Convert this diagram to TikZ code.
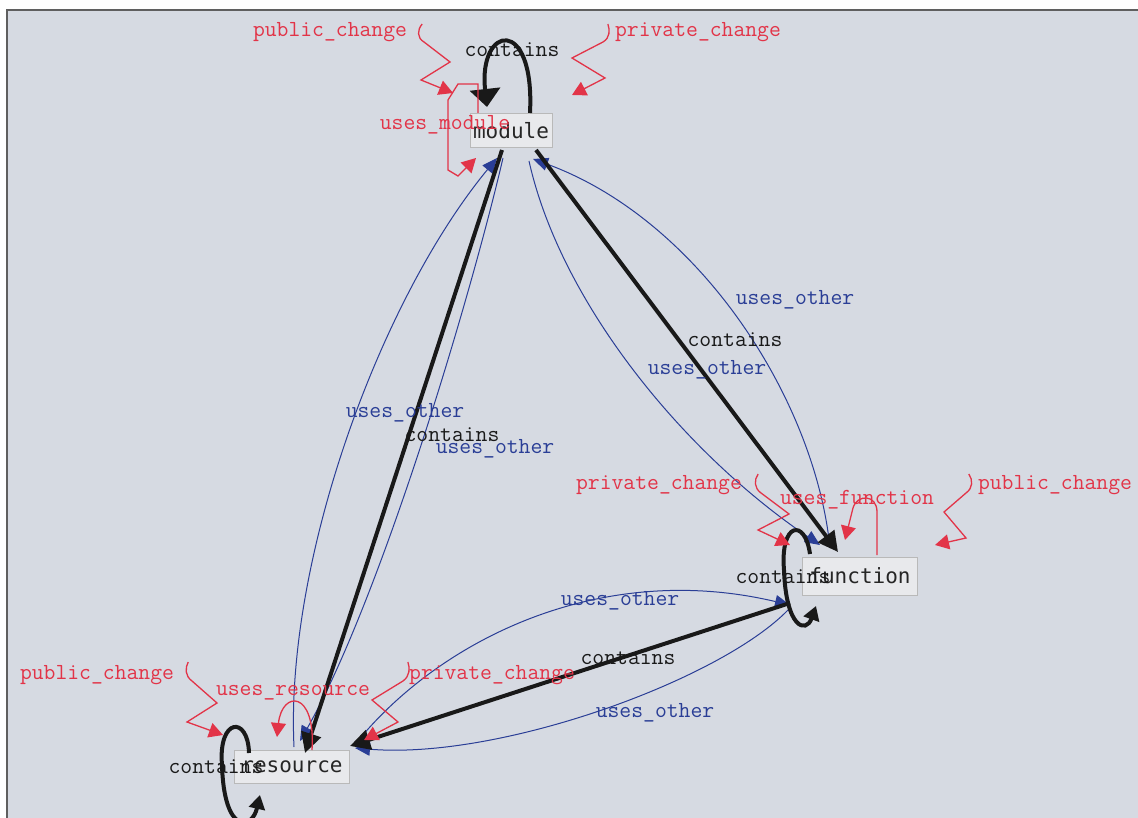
\documentclass[tikz,border=0pt]{standalone}
\usepackage{fontspec}
\newfontfamily\nodefont{DejaVu Sans Mono}
\usetikzlibrary{arrows.meta,calc}
\definecolor{bgc}{RGB}{214,218,226}
\definecolor{boxc}{RGB}{232,233,236}
\definecolor{redc}{RGB}{226,52,72}
\definecolor{bluec}{RGB}{42,62,150}
\definecolor{blkc}{RGB}{25,25,25}
\definecolor{framec}{RGB}{95,95,95}
\tikzset{
  box/.style={draw=gray!55, fill=boxc, line width=1pt, inner sep=0pt,
    font=\nodefont\fontsize{21}{21}\selectfont, text=black!85},
  lbl/.style={font=\ttfamily\fontsize{23}{23}\selectfont, inner sep=0pt},
  redlbl/.style={lbl, text=redc},
  bluelbl/.style={lbl, text=bluec},
  blklbl/.style={lbl, text=blkc},
  containsedge/.style={draw=blkc, line width=4pt, -{Triangle[length=20pt,width=20pt]}},
  useedge/.style={draw=bluec, line width=1pt, -{Triangle[length=15pt,width=13pt]}},
  chg/.style={draw=redc, line width=1.3pt, -{Triangle[length=14pt,width=15pt]}}
}
\begin{document}
\begin{tikzpicture}[x=1pt,y=-1pt]
\useasboundingbox (0,0) rectangle (1138,818);
\clip (0,0) rectangle (1138,818);
\fill[white] (0,0) rectangle (1138,818);
\fill[bgc] (7,10) rectangle (1138,818);
\draw[framec, line width=2pt] (7,818) -- (7,10) -- (1138,10);

% nodes
\node[box, minimum width=82pt, minimum height=34pt] (module) at (511,131) {module};
\node[box, minimum width=115pt, minimum height=38pt] (function) at (860,576) {function};
\node[box, minimum width=115pt, minimum height=33pt] (resource) at (292,767) {resource};

% uses_other (blue)
\draw[useedge] ($(resource.center)+(2,-20)$) .. controls (285,560) and (380,300) .. ($(module.center)+(-14,27)$);
\draw[useedge] ($(module.center)+(-8,27)$) .. controls (470,300) and (380,600) .. ($(resource.center)+(8,-26)$);
\draw[useedge] ($(function.center)+(-30,-28)$) .. controls (815,400) and (700,220) .. ($(module.center)+(22,28)$);
\draw[useedge] ($(module.center)+(18,30)$) .. controls (560,300) and (680,450) .. ($(function.center)+(-40,-31)$);
\draw[useedge] ($(resource.center)+(65,-25)$) .. controls (440,640) and (600,560) .. ($(function.center)+(-70,29)$);
\draw[useedge] ($(function.center)+(-72,34)$) .. controls (720,680) and (500,760) .. ($(resource.center)+(63,-19)$);

% contains (black)
\draw[containsedge] ($(module.center)+(-9,19)$) -- ($(resource.center)+(13,-14)$);
\draw[containsedge] ($(module.center)+(25,19)$) -- ($(function.center)+(-22,-24)$);
\draw[containsedge] ($(function.center)+(-70,27)$) -- ($(resource.center)+(58,-21)$);
\draw[draw=blkc, line width=4pt, -{Triangle[length=18pt,width=30pt]}]
  ($(module.center)+(19,-18)$) .. controls (535,15) and (478,25) .. ($(module.center)+(-24,-24)$);
\draw[containsedge, -{Triangle[length=14pt,width=16pt]}]
  ($(function.center)+(-50,-22)$) .. controls (805,518) and (780,522) .. (784,570)
  .. controls (786,628) and (806,634) .. ($(function.center)+(-44,30)$);
\draw[containsedge, -{Triangle[length=14pt,width=16pt]}]
  ($(resource.center)+(-43,-14)$) .. controls (248,715) and (218,718) .. (222,765)
  .. controls (224,835) and (252,830) .. ($(resource.center)+(-32,28)$);

% edge labels
\node[redlbl] (mpub) at (330,32) {public\_change};
\node[redlbl] (mpriv) at (698,32) {private\_change};
\node[blklbl] (mcont) at (512,50) {contains};
\node[redlbl] (muse) at (445,125) {uses\_module};
\node[redlbl] (fpriv) at (659,485) {private\_change};
\node[redlbl] (fuse) at (857,500) {uses\_function};
\node[redlbl] (fpub) at (1055,485) {public\_change};
\node[blklbl] (fcont) at (783,577) {contains};
\node[redlbl] (rpub) at (97,675) {public\_change};
\node[redlbl] (ruse) at (293,693) {uses\_resource};
\node[redlbl] (rpriv) at (492,675) {private\_change};
\node[blklbl] (rcont) at (216,767) {contains};
\node[bluelbl] (u1) at (405,413) {uses\_other};
\node[bluelbl] (u2) at (495,449) {uses\_other};
\node[blklbl] (c1) at (452,435) {contains};
\node[bluelbl] (u3) at (795,300) {uses\_other};
\node[bluelbl] (u4) at (707,370) {uses\_other};
\node[blklbl] (c2) at (735,340) {contains};
\node[bluelbl] (u5) at (620,601) {uses\_other};
\node[bluelbl] (u6) at (655,713) {uses\_other};
\node[blklbl] (c3) at (628,658) {contains};

% red change loops
\draw[chg] ($(mpub.east)+(15,-8)$) .. controls (417,30) and (417,38) .. (424,42) -- (450,62) -- (421,80) -- ($(module.center)+(-58,-38)$);
\draw[chg] ($(mpriv.west)+(-7,-8)$) .. controls (610,30) and (610,38) .. (603,42) -- (572,58) -- (605,78) -- ($(module.center)+(61,-36)$);
\draw[chg] ($(module.center)+(-33,-18)$) -- (478,84) -- (458,84) -- (448,100) -- (448,170) -- (458,176) -- ($(module.center)+(-35,27)$);
\draw[chg] ($(fpriv.east)+(16,-11)$) .. controls (754,480) and (754,488) .. (761,493) -- (789,514) -- (758,530) -- ($(function.center)+(-70,-31)$);
\draw[chg] ($(function.center)+(17,-21)$) -- (877,512) .. controls (877,494) and (857,494) .. (853,508) -- ($(function.center)+(-15,-36)$);
\draw[chg] ($(fpub.west)+(-9,-11)$) .. controls (973,480) and (973,488) .. (966,493) -- (944,512) -- (966,538) -- ($(function.center)+(75,-31)$);
\draw[chg] ($(rpub.east)+(14,-13)$) .. controls (185,668) and (185,676) .. (192,681) -- (217,703) -- (187,722) -- ($(resource.center)+(-69,-32)$);
\draw[chg] ($(resource.center)+(20,-17)$) .. controls (316,690) and (282,690) .. ($(resource.center)+(-15,-30)$);
\draw[chg] ($(rpriv.west)+(-1,-13)$) .. controls (410,668) and (410,676) .. (403,681) -- (372,700) -- (398,722) -- ($(resource.center)+(72,-27)$);
\end{tikzpicture}
\end{document}
